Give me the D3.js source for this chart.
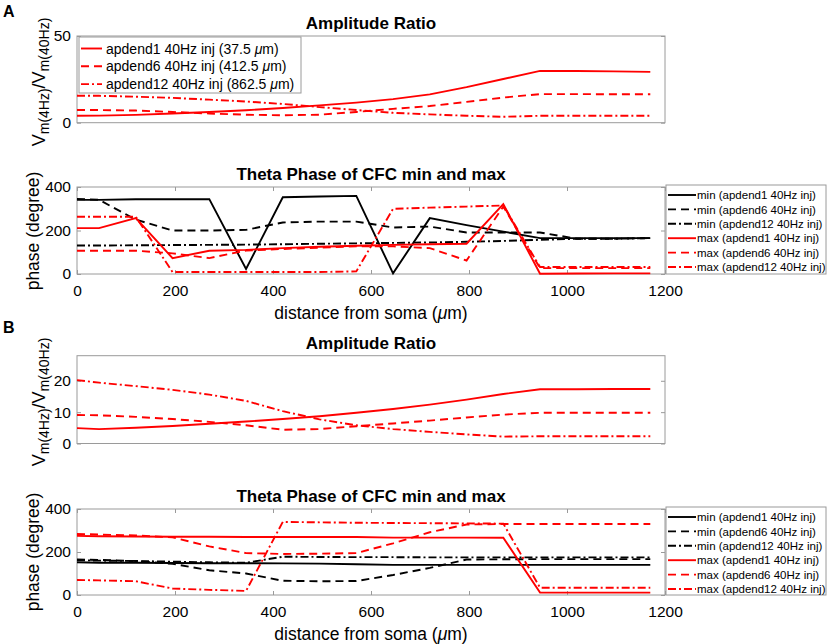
<!DOCTYPE html>
<html>
<head>
<meta charset="utf-8">
<script src="https://cdn.jsdelivr.net/npm/d3@7"></script>
<style>
  body { margin: 0; background: #fff; }
  svg { font-family: "Liberation Sans", Arial, sans-serif; }
</style>
</head>
<body>
<div id="chart"></div>
<script>
// distance from soma (um) of each sampled compartment
const dist = [0, 45, 120, 195, 270, 345, 420, 495, 570, 645, 720, 795, 870, 945, 1020, 1095, 1170];

// panel A, amplitude ratio
const ampA1  = [4.0, 4.1, 4.5, 5.3, 6.2, 7.2, 8.5, 10.0, 11.6, 13.6, 16.3, 20.5, 25.2, 29.9, 29.8, 29.6, 29.3];
const ampA6  = [7.3, 7.3, 7.0, 6.2, 5.3, 4.6, 4.3, 4.6, 6.2, 8.0, 9.6, 12.0, 14.5, 16.5, 16.5, 16.4, 16.4];
const ampA12 = [15.5, 15.5, 15.0, 14.3, 13.3, 12.2, 10.8, 9.0, 7.3, 5.7, 4.8, 4.0, 3.4, 4.0, 4.0, 4.0, 4.0];

// panel A, theta phase of CFC min / max
const minA1  = [341, 341, 344, 344, 344, 23, 353, 356, 359, 3, 257, 225, 195, 165, 165, 165, 165];
const minA6  = [345, 341, 250, 200, 200, 203, 237, 241, 241, 214, 218, 191, 191, 191, 162, 162, 165];
const minA12 = [131, 131, 132, 133, 134, 135, 137, 139, 141, 143, 145, 148, 152, 157, 162, 162, 165];
const maxA1  = [211, 211, 257, 73, 107, 111, 119, 125, 130, 134, 137, 139, 321, 1, 2, 3, 3];
const maxA6  = [107, 107, 107, 95, 73, 108, 115, 121, 127, 127, 119, 62, 310, 27, 27, 27, 27];
const maxA12 = [263, 263, 263, 9, 9, 9, 9, 9, 12, 300, 305, 310, 315, 32, 32, 32, 32];

// panel B, amplitude ratio
const ampB1  = [4.9, 4.6, 5.0, 5.6, 6.3, 7.0, 7.8, 8.7, 9.8, 11.0, 12.4, 14.0, 15.8, 17.3, 17.3, 17.4, 17.4];
const ampB6  = [9.1, 9.0, 8.5, 7.8, 6.9, 5.8, 4.4, 4.6, 5.5, 6.4, 7.3, 8.3, 9.2, 9.8, 9.8, 9.8, 9.8];
const ampB12 = [20.2, 19.4, 18.3, 17.1, 15.6, 13.6, 10.3, 7.7, 5.8, 4.6, 3.7, 2.9, 2.2, 2.3, 2.3, 2.3, 2.3];

// panel B, theta phase of CFC min / max
const minB1  = [152, 150, 150, 149, 148, 148, 147, 146, 143, 140, 140, 140, 140, 140, 140, 140, 140];
const minB6  = [165, 163, 158, 145, 115, 100, 66, 64, 65, 93, 126, 165, 166, 167, 167, 167, 167];
const minB12 = [162, 160, 158, 155, 152, 150, 178, 177, 176, 176, 175, 175, 175, 175, 175, 175, 175];
const maxB1  = [275, 273, 272, 271, 271, 270, 270, 270, 270, 267, 267, 267, 266, 11, 11, 11, 11];
const maxB6  = [284, 281, 277, 268, 226, 195, 191, 192, 195, 240, 292, 328, 330, 330, 330, 330, 330];
const maxB12 = [70, 68, 64, 30, 24, 19, 340, 338, 336, 335, 334, 333, 332, 34, 34, 34, 34];

const ampNames = ['apdend1 40Hz inj (37.5 ', 'apdend6 40Hz inj (412.5 ', 'apdend12 40Hz inj (862.5 '];
const phaseNames = ['min (apdend1 40Hz inj)', 'min (apdend6 40Hz inj)', 'min (apdend12 40Hz inj)',
                    'max (apdend1 40Hz inj)', 'max (apdend6 40Hz inj)', 'max (apdend12 40Hz inj)'];
const xTicks = [0, 200, 400, 600, 800, 1000, 1200];

const W = 829, H = 644;
const boxColor = '#9a9a9a';
const dashes = [null, '8,5', '8,3,2,3'];
const lw = 1.9;

const svg = d3.select('#chart').append('svg')
    .attr('width', W)
    .attr('height', H);

const x = d3.scaleLinear().domain([0, 1200]).range([77, 665]);

function frame(top, bottom, yDomain, yTicks, showX) {
    const y = d3.scaleLinear().domain(yDomain).range([bottom, top]);
    const g = svg.append('g');
    g.append('rect')
        .attr('x', x.range()[0]).attr('y', top)
        .attr('width', x.range()[1] - x.range()[0]).attr('height', bottom - top)
        .attr('fill', '#fff').attr('stroke', boxColor).attr('stroke-width', 1);

    const left = g.append('g').attr('transform', `translate(${x.range()[0]},0)`)
        .call(d3.axisLeft(y).tickValues(yTicks).tickSize(-4).tickFormat(d3.format('d')));
    left.selectAll('text').attr('x', -6).attr('font-size', 15.5).attr('fill', '#000');
    const right = g.append('g').attr('transform', `translate(${x.range()[1]},0)`)
        .call(d3.axisRight(y).tickValues(yTicks).tickSize(-4).tickFormat(''));

    const axes = [left, right];
    if (showX) {
        const bot = g.append('g').attr('transform', `translate(0,${bottom})`)
            .call(d3.axisBottom(x).tickValues(xTicks).tickSize(-4).tickFormat(d3.format('d')));
        bot.selectAll('text').attr('y', 22).attr('dy', 0).attr('font-size', 15.5).attr('fill', '#000');
        const topAx = g.append('g').attr('transform', `translate(0,${top})`)
            .call(d3.axisTop(x).tickValues(xTicks).tickSize(-4).tickFormat(''));
        axes.push(bot, topAx);
    }
    axes.forEach(a => {
        a.select('.domain').remove();
        a.selectAll('line').attr('stroke', boxColor);
        a.attr('font-family', null);
    });
    return {g, y};
}

function drawSeries(g, y, values, color, dash) {
    const line = d3.line().x((d, i) => x(dist[i])).y(d => y(d));
    g.append('path')
        .datum(values)
        .attr('d', line)
        .attr('fill', 'none')
        .attr('stroke', color)
        .attr('stroke-width', lw)
        .attr('stroke-dasharray', dash);
}

function title(text, baseline) {
    svg.append('text')
        .attr('x', (x.range()[0] + x.range()[1]) / 2)
        .attr('y', baseline)
        .attr('text-anchor', 'middle')
        .attr('font-size', 17)
        .attr('font-weight', 'bold')
        .text(text);
}

function ampLabel(cy) {
    const t = svg.append('text')
        .attr('transform', `translate(45,${cy}) rotate(-90)`)
        .attr('text-anchor', 'middle')
        .attr('font-size', 18);
    t.append('tspan').text('V');
    t.append('tspan').attr('font-size', 14).attr('dy', 4).text('m(4Hz)');
    t.append('tspan').attr('dy', -4).text('/V');
    t.append('tspan').attr('font-size', 14).attr('dy', 4).text('m(40Hz)');
}

function phaseLabel(cy) {
    svg.append('text')
        .attr('transform', `translate(39,${cy}) rotate(-90)`)
        .attr('text-anchor', 'middle')
        .attr('font-size', 17.5)
        .text('phase (degree)');
}

function distLabel(baseline) {
    const t = svg.append('text')
        .attr('x', (x.range()[0] + x.range()[1]) / 2)
        .attr('y', baseline)
        .attr('text-anchor', 'middle')
        .attr('font-size', 17.5);
    t.append('tspan').text('distance from soma (');
    t.append('tspan').attr('font-style', 'italic').text('\u03bc');
    t.append('tspan').text('m)');
}

function panelLetter(text, baseline) {
    svg.append('text')
        .attr('x', 3).attr('y', baseline)
        .attr('font-size', 16).attr('font-weight', 'bold')
        .text(text);
}

function ampPanel(top, bottom, yMax, yTicks, series, withLegend) {
    const {g, y} = frame(top, bottom, [0, yMax], yTicks, false);
    series.forEach((s, i) => drawSeries(g, y, s, '#ff0000', dashes[i]));
    if (withLegend) {
        const lg = svg.append('g');
        lg.append('rect').attr('x', 79).attr('y', top + 1).attr('width', 222).attr('height', 56)
            .attr('fill', '#fff').attr('stroke', boxColor);
        ampNames.forEach((name, i) => {
            const cy = top + 12.5 + i * 17.8;
            lg.append('line').attr('x1', 81).attr('x2', 102).attr('y1', cy).attr('y2', cy)
                .attr('stroke', '#ff0000').attr('stroke-width', lw).attr('stroke-dasharray', dashes[i]);
            const t = lg.append('text').attr('x', 106).attr('y', cy).attr('dy', '0.36em').attr('font-size', 14);
            t.append('tspan').text(name);
            t.append('tspan').attr('font-style', 'italic').text('\u03bc');
            t.append('tspan').text('m)');
        });
    }
}

function phasePanel(top, bottom, series) {
    const {g, y} = frame(top, bottom, [0, 400], [0, 200, 400], true);
    const colors = ['#000', '#000', '#000', '#ff0000', '#ff0000', '#ff0000'];
    series.forEach((s, i) => drawSeries(g, y, s, colors[i], dashes[i % 3]));
    const lg = svg.append('g');
    lg.append('rect').attr('x', 666).attr('y', top - 2).attr('width', 160).attr('height', bottom - top + 2)
        .attr('fill', '#fff').attr('stroke', boxColor);
    phaseNames.forEach((name, i) => {
        const cy = top + 8 + i * 14.4;
        lg.append('line').attr('x1', 668).attr('x2', 696).attr('y1', cy).attr('y2', cy)
            .attr('stroke', colors[i]).attr('stroke-width', lw).attr('stroke-dasharray', dashes[i % 3]);
        lg.append('text').attr('x', 697).attr('y', cy).attr('dy', '0.36em')
            .attr('font-size', 11.5).text(name);
    });
}

// ---- panel A ----
panelLetter('A', 17);
title('Amplitude Ratio', 29);
ampPanel(36, 122.7, 50, [0, 50], [ampA1, ampA6, ampA12], true);
ampLabel(82);
title('Theta Phase of CFC min and max', 180);
phasePanel(187, 274, [minA1, minA6, minA12, maxA1, maxA6, maxA12]);
phaseLabel(231);
distLabel(319);

// ---- panel B ----
panelLetter('B', 333);
title('Amplitude Ratio', 349);
ampPanel(355.7, 443.5, 28, [0, 10, 20], [ampB1, ampB6, ampB12], false);
ampLabel(402);
title('Theta Phase of CFC min and max', 502);
phasePanel(509, 595, [minB1, minB6, minB12, maxB1, maxB6, maxB12]);
phaseLabel(552);
distLabel(640);
</script>
</body>
</html>
